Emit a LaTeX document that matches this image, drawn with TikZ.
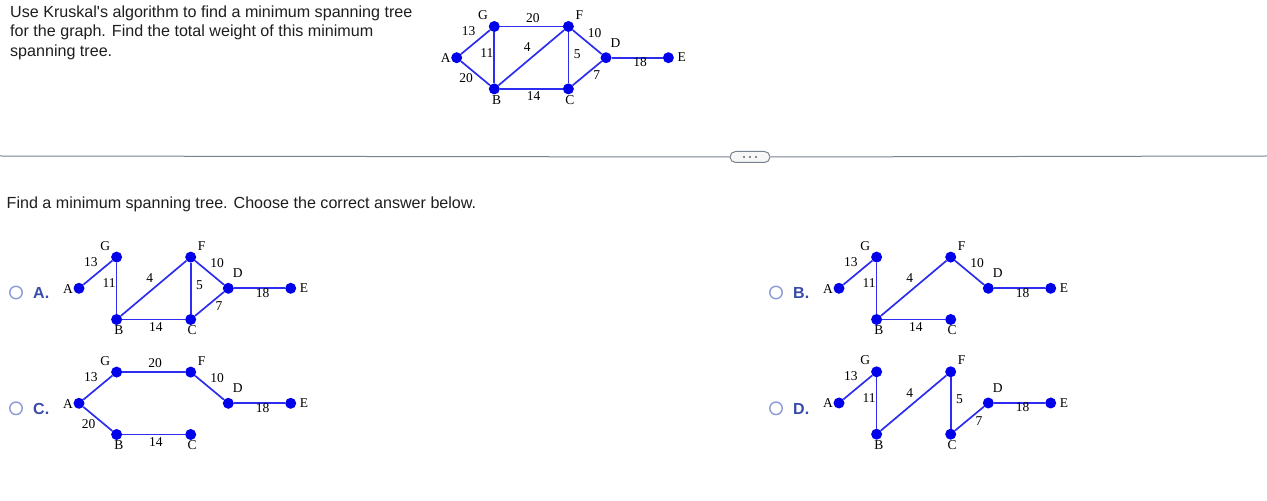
\documentclass[tikz,border=0pt]{standalone}
\usepackage{fontspec}
\setmainfont{Liberation Serif}
\newfontfamily\uifont{Liberation Sans}
\usetikzlibrary{calc}
\definecolor{kblue}{RGB}{0,0,235}
\definecolor{kline}{RGB}{45,45,240}
\definecolor{kradio}{RGB}{140,155,215}
\definecolor{kopt}{RGB}{55,75,170}
\definecolor{ksep}{RGB}{120,130,145}
\definecolor{ktext}{RGB}{30,30,30}
% one copy of the graph: prefix, position of A
\newcommand{\kgraph}[3]{%
\node[kv] (#1A) at (#2,#3) {};
\node[kv] (#1G) at (#2+37.6,#3-31.2) {};
\node[kv] (#1F) at (#2+111.7,#3-31.2) {};
\node[kv] (#1D) at (#2+149.3,#3) {};
\node[kv] (#1E) at (#2+211.7,#3) {};
\node[kv] (#1B) at (#2+37.6,#3+31.2) {};
\node[kv] (#1C) at (#2+111.7,#3+31.2) {};
\node[vlbl] (#1Al) at ($(#1A)+(-11,0.5)$) {A};
\node[vlbl] (#1Gl) at ($(#1G)+(-11.3,-11.3)$) {G};
\node[vlbl] (#1Fl) at ($(#1F)+(11,-11.3)$) {F};
\node[vlbl] (#1Dl) at ($(#1D)+(9.5,-15)$) {D};
\node[vlbl] (#1El) at ($(#1E)+(13.3,-0.3)$) {E};
\node[vlbl] (#1Bl) at ($(#1B)+(2.3,10.8)$) {B};
\node[vlbl] (#1Cl) at ($(#1C)+(1.5,10.8)$) {C};}
\tikzset{
 kv/.style={circle, fill=kblue, inner sep=0pt, minimum size=11bp},
 kedge/.style={draw=kline, line width=1.7bp},
 vlbl/.style={font=\fontsize{13.5bp}{13.5bp}\selectfont, inner sep=0pt},
 elbl/.style={midway, font=\fontsize{13.5bp}{13.5bp}\selectfont, inner sep=0pt},
 lAG/.style={shift={(-7,-11)}},
 lGF/.style={shift={(1.5,-8.7)}},
 lFD/.style={shift={(7.5,-9.3)}},
 lGB/.style={shift={(-7.5,-4.8)}},
 lBF/.style={shift={(-4,-10.3)}},
 lFC/.style={shift={(8.8,-3.5)}},
 lAB/.style={shift={(-9.3,5.2)}},
 lCD/.style={shift={(9.5,2.2)}},
 lDE/.style={shift={(3,4.4)}},
 lBC/.style={shift={(2.3,7.5)}},
 qtext/.style={font=\uifont\fontsize{16.1bp}{19.5bp}\selectfont, text=ktext, anchor=base west, inner sep=0pt, align=left},
 radio/.style={circle, draw=kradio, line width=1.4bp, minimum size=12.5bp, inner sep=0pt},
 optlbl/.style={font=\uifont\bfseries\fontsize{16bp}{16bp}\selectfont, text=kopt, anchor=base west, inner sep=0pt},
}
\begin{document}
\begin{tikzpicture}[x=1bp, y=-1bp]
\useasboundingbox[fill=white] (0,0) rectangle (1267,501);
% question
\node[qtext] (q1) at (10,56.3) {Use Kruskal's algorithm to find a minimum spanning tree\\for the graph. Find the total weight of this minimum\\spanning tree.};
\kgraph{t}{456.7}{57.7}
\draw[kedge] (tA) -- node[elbl,lAG] {13} (tG);
\draw[kedge] (tA) -- node[elbl,lAB] {20} (tB);
\draw[kedge] (tG) -- node[elbl,lGF] {20} (tF);
\draw[kedge] (tG) -- node[elbl,lGB] {11} (tB);
\draw[kedge] (tB) -- node[elbl,lBF] {4} (tF);
\draw[kedge] (tB) -- node[elbl,lBC] {14} (tC);
\draw[kedge] (tF) -- node[elbl,lFC] {5} (tC);
\draw[kedge] (tF) -- node[elbl,lFD] {10} (tD);
\draw[kedge] (tC) -- node[elbl,lCD] {7} (tD);
\draw[kedge] (tD) -- node[elbl,lDE] {18} (tE);
% separator
\node[draw=ksep, fill=black!3, line width=1bp, rounded corners=5.5bp, minimum width=40bp, minimum height=11bp] (more) at (750,157) {};
\coordinate (sepL) at (0,156);
\coordinate (sepR) at (1267,156);
\draw[ksep, line width=1bp] (sepL) -- (more.west);
\draw[ksep, line width=1bp] (more.east) -- (sepR);
\foreach \dx in {-6,0,6} \fill[black!60] ($(more.center)+(\dx,0)$) circle (1.2bp);
\node[qtext] (q2) at (6.5,209) {Find a minimum spanning tree. Choose the correct answer below.};
% option A
\node[radio] (rA) at (16,292.5) {};
\node[optlbl] (oA) at (33,299) {A.};
\kgraph{a}{79}{288.3}
\draw[kedge] (aA) -- node[elbl,lAG] {13} (aG);
\draw[kedge] (aG) -- node[elbl,lGB] {11} (aB);
\draw[kedge] (aB) -- node[elbl,lBF] {4} (aF);
\draw[kedge] (aB) -- node[elbl,lBC] {14} (aC);
\draw[kedge] (aF) -- node[elbl,lFC] {5} (aC);
\draw[kedge] (aF) -- node[elbl,lFD] {10} (aD);
\draw[kedge] (aC) -- node[elbl,lCD] {7} (aD);
\draw[kedge] (aD) -- node[elbl,lDE] {18} (aE);
% option B
\node[radio] (rB) at (776,292.5) {};
\node[optlbl] (oB) at (793,299) {B.};
\kgraph{b}{839}{288.3}
\draw[kedge] (bA) -- node[elbl,lAG] {13} (bG);
\draw[kedge] (bG) -- node[elbl,lGB] {11} (bB);
\draw[kedge] (bB) -- node[elbl,lBF] {4} (bF);
\draw[kedge] (bB) -- node[elbl,lBC] {14} (bC);
\draw[kedge] (bF) -- node[elbl,lFD] {10} (bD);
\draw[kedge] (bD) -- node[elbl,lDE] {18} (bE);
% option C
\node[radio] (rC) at (16,408.3) {};
\node[optlbl] (oC) at (33,414.5) {C.};
\kgraph{c}{79}{403.3}
\draw[kedge] (cA) -- node[elbl,lAG] {13} (cG);
\draw[kedge] (cA) -- node[elbl,lAB] {20} (cB);
\draw[kedge] (cG) -- node[elbl,lGF] {20} (cF);
\draw[kedge] (cB) -- node[elbl,lBC] {14} (cC);
\draw[kedge] (cF) -- node[elbl,lFD] {10} (cD);
\draw[kedge] (cD) -- node[elbl,lDE] {18} (cE);
% option D
\node[radio] (rD) at (776,408.3) {};
\node[optlbl] (oD) at (793,414.5) {D.};
\kgraph{d}{839}{403}
\draw[kedge] (dA) -- node[elbl,lAG] {13} (dG);
\draw[kedge] (dG) -- node[elbl,lGB] {11} (dB);
\draw[kedge] (dB) -- node[elbl,lBF] {4} (dF);
\draw[kedge] (dF) -- node[elbl,lFC] {5} (dC);
\draw[kedge] (dC) -- node[elbl,lCD] {7} (dD);
\draw[kedge] (dD) -- node[elbl,lDE] {18} (dE);
\end{tikzpicture}
\end{document}
